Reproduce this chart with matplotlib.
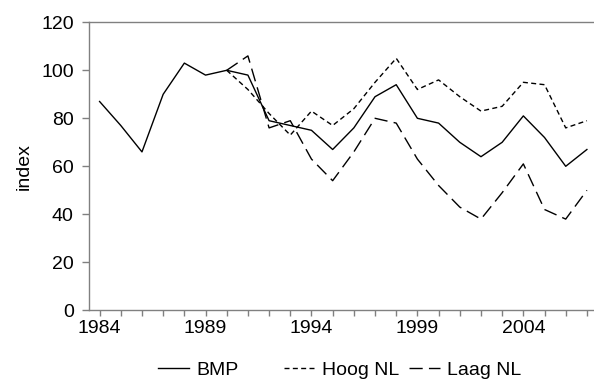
import matplotlib
matplotlib.use("Agg")
import matplotlib.pyplot as plt
from matplotlib.lines import Line2D

plt.rcParams['font.family'] = ['Liberation Sans', 'DejaVu Sans']

years = list(range(1984, 2008))
bmp = [87, 77, 66, 90, 103, 98, 100, 98, 79, 77, 75, 67, 76, 89, 94, 80, 78, 70, 64, 70, 81, 72, 60, 67]

years_nl = list(range(1990, 2008))
hoog_nl = [100, 92, 82, 73, 83, 77, 84, 95, 105, 92, 96, 89, 83, 85, 95, 94, 76, 79]
laag_nl = [100, 106, 76, 79, 63, 54, 66, 80, 78, 63, 52, 43, 38, 49, 61, 42, 38, 50]

labels = ["BMP", "Hoog NL", "Laag NL"]
y_ticks = [0, 20, 40, 60, 80, 100, 120]
x_labelled = [1984, 1989, 1994, 1999, 2004]

W, H = 594, 381
fig = plt.figure(figsize=(W / 100, H / 100), dpi=100)
ax = fig.add_axes([89 / W, 1 - 310.3 / H, (597.5 - 89) / W, (310.3 - 22.3) / H])

lw = 1.0
l1, = ax.plot(years, bmp, color='black', lw=lw, linestyle='-')
l2, = ax.plot(years_nl, hoog_nl, color='black', lw=lw, linestyle=(0, (3.6, 2.4)))
l3, = ax.plot(years_nl, laag_nl, color='black', lw=lw, linestyle=(0, (9.5, 4.5)))

ax.set_xlim(1983.5, 2007.5)
ax.set_ylim(0, 120)
ax.set_yticks(y_ticks)
ax.set_xticks(years)
ax.set_xticklabels([str(y) if y in x_labelled else "" for y in years])

spine_c = '#808080'
for s in ['left', 'bottom', 'top']:
    ax.spines[s].set_color(spine_c)
    ax.spines[s].set_linewidth(1.0)
ax.spines['right'].set_visible(False)

fs = 14
ax.tick_params(axis='y', direction='out', length=5, width=1.0, color=spine_c,
               labelsize=fs, pad=6)
ax.tick_params(axis='x', direction='out', length=4, width=1.0, color=spine_c,
               labelsize=fs, pad=3)
ax.set_ylabel("index", fontsize=fs, labelpad=6)

# legend entries placed individually along the bottom
handles = [l1, l2, l3]
starts = [158, 284, 409]
for h, lab, x0 in zip(handles, labels, starts):
    fig.legend([h], [lab], loc='center left', bbox_to_anchor=(x0 / W, 1 - 370 / H),
               frameon=False, fontsize=fs, borderpad=0, borderaxespad=0,
               handlelength=1.6, handletextpad=0.36)

fig.savefig("out.png", dpi=100)
